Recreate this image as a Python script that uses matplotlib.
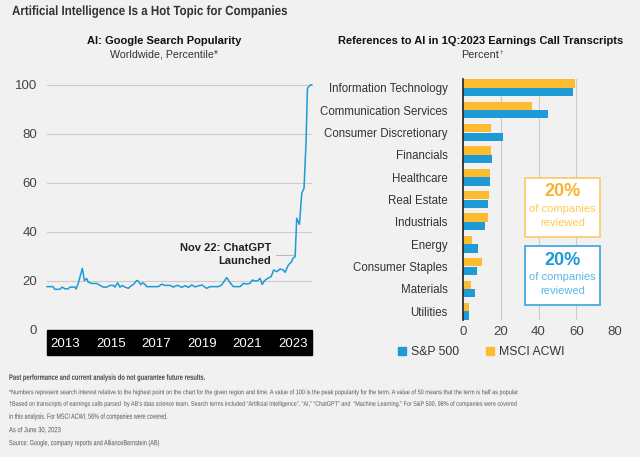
import matplotlib
matplotlib.use("Agg")
import matplotlib.pyplot as plt
from matplotlib import font_manager
from matplotlib.patches import Rectangle, Patch
from matplotlib.patheffects import AbstractPathEffect
from matplotlib.transforms import Affine2D


def pick_font(names, fallback="DejaVu Sans"):
    have = {f.name for f in font_manager.fontManager.ttflist}
    for n in names:
        if n in have:
            return n
    return fallback


SANS = pick_font(["Liberation Sans", "Arial"])

BG = "#F1F1F1"
BLUE = "#1E9AD6"
YELLOW = "#FDBB2F"
TXT = "#333333"
GRID = "#CCCCCC"

# Google search popularity for "AI" (decimal years)
search_years = [2012.21, 2012.47, 2012.56, 2012.78, 2012.87, 2013.00, 2013.13, 2013.22,
                2013.44, 2013.48, 2013.58, 2013.76, 2013.85, 2013.95, 2014.02, 2014.17,
                2014.39, 2014.54, 2014.68, 2014.83, 2014.97, 2015.12, 2015.19, 2015.31,
                2015.41, 2015.51, 2015.63, 2015.78, 2015.89, 2016.00, 2016.14, 2016.21,
                2016.32, 2016.41, 2016.51, 2016.58, 2017.09, 2017.24, 2017.39, 2017.61,
                2017.75, 2017.90, 2017.97, 2018.12, 2018.26, 2018.41, 2018.56, 2018.70,
                2018.85, 2019.00, 2019.21, 2019.36, 2019.58, 2019.72, 2019.87, 2020.09,
                2020.24, 2020.38, 2020.68, 2020.82, 2020.97, 2021.11, 2021.21, 2021.33,
                2021.45, 2021.55, 2021.65, 2021.74, 2021.89, 2022.04, 2022.15, 2022.29,
                2022.43, 2022.57, 2022.65, 2022.79, 2022.94, 2022.99, 2023.09, 2023.16,
                2023.28, 2023.38, 2023.48, 2023.57, 2023.63, 2023.75, 2023.82]
search_values = [17.7, 17.7, 16.6, 16.6, 17.5, 16.8, 16.8, 17.5,
                 17.5, 16.7, 19.0, 25.2, 20.2, 21.0, 19.5, 19.0,
                 19.0, 18.2, 17.5, 17.5, 18.2, 18.2, 17.5, 19.3,
                 17.5, 18.2, 17.5, 17.0, 18.0, 18.6, 20.2, 20.0,
                 18.5, 19.3, 18.6, 17.7, 17.7, 18.7, 18.2, 18.2,
                 17.5, 18.2, 18.1, 17.4, 18.1, 17.4, 18.4, 17.6,
                 18.0, 18.4, 17.0, 17.7, 17.7, 17.7, 18.4, 21.4,
                 19.3, 17.7, 17.7, 19.0, 18.8, 19.0, 20.4, 20.0,
                 20.1, 21.1, 18.6, 20.1, 21.1, 21.8, 24.5, 23.8,
                 24.9, 24.5, 23.5, 26.5, 27.9, 29.2, 29.9, 45.6,
                 43.1, 55.8, 57.8, 76.9, 98.6, 100.0, 100.0]
year_ticks = [2013, 2015, 2017, 2019, 2021, 2023]
pop_ticks = [0, 20, 40, 60, 80, 100]
ann_text = "Nov 22: ChatGPT\nLaunched"
ann_x, ann_y = 2022.04, 30.8
leader_x = [2022.25, 2023.09]

# References to AI in 1Q:2023 earnings calls, percent
sectors = ["Information Technology", "Communication Services", "Consumer Discretionary",
           "Financials", "Healthcare", "Real Estate", "Industrials", "Energy",
           "Consumer Staples", "Materials", "Utilities"]
sp500 = [58.2, 44.9, 21.4, 15.2, 14.4, 13.1, 11.9, 7.9, 7.5, 6.6, 3.2]
msci = [59.3, 36.6, 14.9, 15.1, 14.2, 13.7, 13.5, 4.7, 10.3, 4.2, 3.2]
pct_ticks = [0, 20, 40, 60, 80]

footnotes = [
    "*Numbers represent search interest relative to the highest point on the chart for the given region and time. "
    "A value of 100 is the peak popularity for the term. A value of 50 means that the term is half as popular.",
    "\u2020Based on transcripts of earnings calls parsed  by AB\u2019s data science team. Search terms included "
    "\u201cArtificial Intelligence\u201d, \u201cAI,\u201d \u201cChatGPT\u201d and  \u201cMachine Learning.\u201d "
    "For S&P 500, 98% of companies were covered",
    "in this analysis. For MSCI ACWI, 56% of companies were covered.",
    "As of June 30, 2023",
    "Source: Google, company reports and AllianceBernstein (AB)",
]

W, H = 640, 457
fig = plt.figure(figsize=(6.4, 4.57), dpi=100, facecolor=BG)


def fx(px):
    return px / W


def fy(py):
    return 1 - py / H


class Squash(AbstractPathEffect):
    # narrows glyphs horizontally around x0 (display px) to imitate a condensed face
    def __init__(self, sx, x0):
        super().__init__()
        self.sx = sx
        self.x0 = x0

    def draw_path(self, renderer, gc, tpath, affine, rgbFace=None):
        squash = Affine2D().translate(-self.x0, 0).scale(self.sx, 1).translate(self.x0, 0)
        renderer.draw_path(gc, tpath, affine + squash, rgbFace)


def condensed(t, left_px, width_px, max_px=620):
    r = fig.canvas.get_renderer()
    w = t.get_window_extent(r).width
    if left_px + w > max_px:
        # keep the unsquashed box inside the figure
        t.set_fontsize(t.get_fontsize() * (max_px - left_px) / w)
        w = t.get_window_extent(r).width
    t.set_path_effects([Squash(width_px / w, left_px)])


def fit_width(t, width_px):
    r = fig.canvas.get_renderer()
    w = t.get_window_extent(r).width
    t.set_fontsize(t.get_fontsize() * width_px / w)


# ---- left: Google search popularity ----
ax1 = fig.add_axes([fx(47), fy(330), fx(265), 247.5 / H])
ax1.set_facecolor(BG)
ax1.plot(search_years, search_values, color=BLUE, lw=1.1, zorder=3, clip_on=False)
ax1.set_xlim(2012.21, 2023.83)
ax1.set_ylim(0, 101)
ax1.set_yticks(pop_ticks)
ax1.set_yticklabels([str(v) for v in pop_ticks], fontsize=9.5, color="#444444", family=SANS)
ax1.set_xticks(year_ticks)
ax1.set_xticklabels([str(v) for v in year_ticks], fontsize=9.5, color="white", family=SANS)
ax1.tick_params(length=0)
ax1.tick_params(axis="y", pad=7)
ax1.tick_params(axis="x", pad=6)
ax1.yaxis.grid(True, color=GRID, lw=0.8)
for s in ax1.spines.values():
    s.set_visible(False)
band_h = 25 / 247.5
ax1.add_patch(Rectangle((0, -band_h), 1, band_h, transform=ax1.transAxes,
                        color="black", clip_on=False, zorder=1))
ax1.text(ann_x, ann_y, ann_text, ha="right", va="center", multialignment="right",
         fontsize=8, fontweight="bold", color="#222222", family=SANS, linespacing=1.35)
ax1.plot(leader_x, [ann_y - 0.2, ann_y - 0.2], color="#BBBBBB", lw=0.8)

# ---- right: earnings call references ----
ax2 = fig.add_axes([fx(462.7), fy(320), 151.6 / W, 241 / H])
ax2.set_facecolor(BG)
pos = list(range(len(sectors)))
ax2.barh([p - 0.19 for p in pos], msci, height=0.37, color=YELLOW, zorder=2)
ax2.barh([p + 0.19 for p in pos], sp500, height=0.37, color=BLUE, zorder=2)
ax2.set_xlim(0, 80)
ax2.set_ylim(10.39, -0.39)
ax2.set_xticks(pct_ticks)
ax2.set_xticklabels([str(v) for v in pct_ticks], fontsize=9.5, color="#444444", family=SANS)
ax2.set_yticks(pos)
ax2.set_yticklabels(sectors, fontsize=8.3, color=TXT, family=SANS)
ax2.tick_params(length=0)
ax2.tick_params(axis="y", pad=11)
ax2.tick_params(axis="x", pad=4)
ax2.xaxis.grid(True, color=GRID, lw=0.8)
ax2.set_axisbelow(True)
for name, s in ax2.spines.items():
    s.set_visible(name == "left")
ax2.spines["left"].set_color("#222222")
ax2.spines["left"].set_linewidth(1.2)
ax2.spines["left"].set_zorder(4)

# coverage boxes
boxes = [
    (4.02, 6.67, "#FDCB6E", "#F9B233", "#FFC94F"),
    (7.08, 9.71, "#45A9DE", BLUE, "#5BB8E6"),
]
for top, bot, edge, head, sub in boxes:
    ax2.add_patch(Rectangle((32.9, top), 72.6 - 32.9, bot - top, facecolor="white",
                            edgecolor=edge, lw=1.3, zorder=5, clip_on=False))
    cx = (32.9 + 72.6) / 2
    h = bot - top
    ax2.text(cx, top + 0.24 * h, "20%", ha="center", va="center", fontsize=13,
             fontweight="bold", color=head, family=SANS, zorder=6)
    ax2.text(cx, top + 0.53 * h, "of companies", ha="center", va="center", fontsize=8,
             color=sub, family=SANS, zorder=6)
    ax2.text(cx, top + 0.77 * h, "reviewed", ha="center", va="center", fontsize=8,
             color=sub, family=SANS, zorder=6)

fig.legend(handles=[Patch(color=BLUE, label="S&P 500"), Patch(color=YELLOW, label="MSCI ACWI")],
           loc="center", bbox_to_anchor=(fx(481), fy(352)), ncol=2, frameon=False,
           handlelength=0.65, handleheight=0.65, handletextpad=0.4, columnspacing=2.2,
           prop={"family": SANS, "size": 8.8}, labelcolor=TXT)

# ---- titles ----
t = fig.text(fx(12), fy(12), "Artificial Intelligence Is a Hot Topic for Companies",
             fontsize=9.6, fontweight="bold", color=TXT, family=SANS, va="center")
condensed(t, 12, 276)
t = fig.text(fx(164), fy(40.7), "AI: Google Search Popularity", ha="center", va="center",
             fontsize=8, fontweight="bold", color="#111111", family=SANS)
fit_width(t, 154)
t = fig.text(fx(164), fy(54.3), "Worldwide, Percentile*", ha="center", va="center",
             fontsize=8, color=TXT, family=SANS)
fit_width(t, 107)
t = fig.text(fx(481), fy(41), "References to AI in 1Q:2023 Earnings Call Transcripts",
             ha="center", va="center", fontsize=8, fontweight="bold", color="#111111", family=SANS)
fit_width(t, 286)
fig.text(fx(461), fy(55), "Percent", ha="left", va="center", fontsize=7.8, color=TXT, family=SANS)
fig.text(fx(500), fy(52), "\u2020", ha="left", va="center", fontsize=4.5, color=TXT, family=SANS)

# ---- footnotes ----
t = fig.text(fx(9), fy(378.3), "Past performance and current analysis do not guarantee future results.",
             fontsize=5.6, fontweight="bold", color="#444444", family=SANS, va="center")
condensed(t, 9, 195)
foot_y = [392.7, 404.3, 417.3, 430.7, 443.7]
foot_w = [505, 507, 160, 52, 152]
for line, y, w in zip(footnotes, foot_y, foot_w):
    t = fig.text(fx(9), fy(y), line, fontsize=5.4, color="#555555", family=SANS, va="center")
    condensed(t, 9, w)

fig.savefig("out.png", dpi=100, facecolor=BG)
